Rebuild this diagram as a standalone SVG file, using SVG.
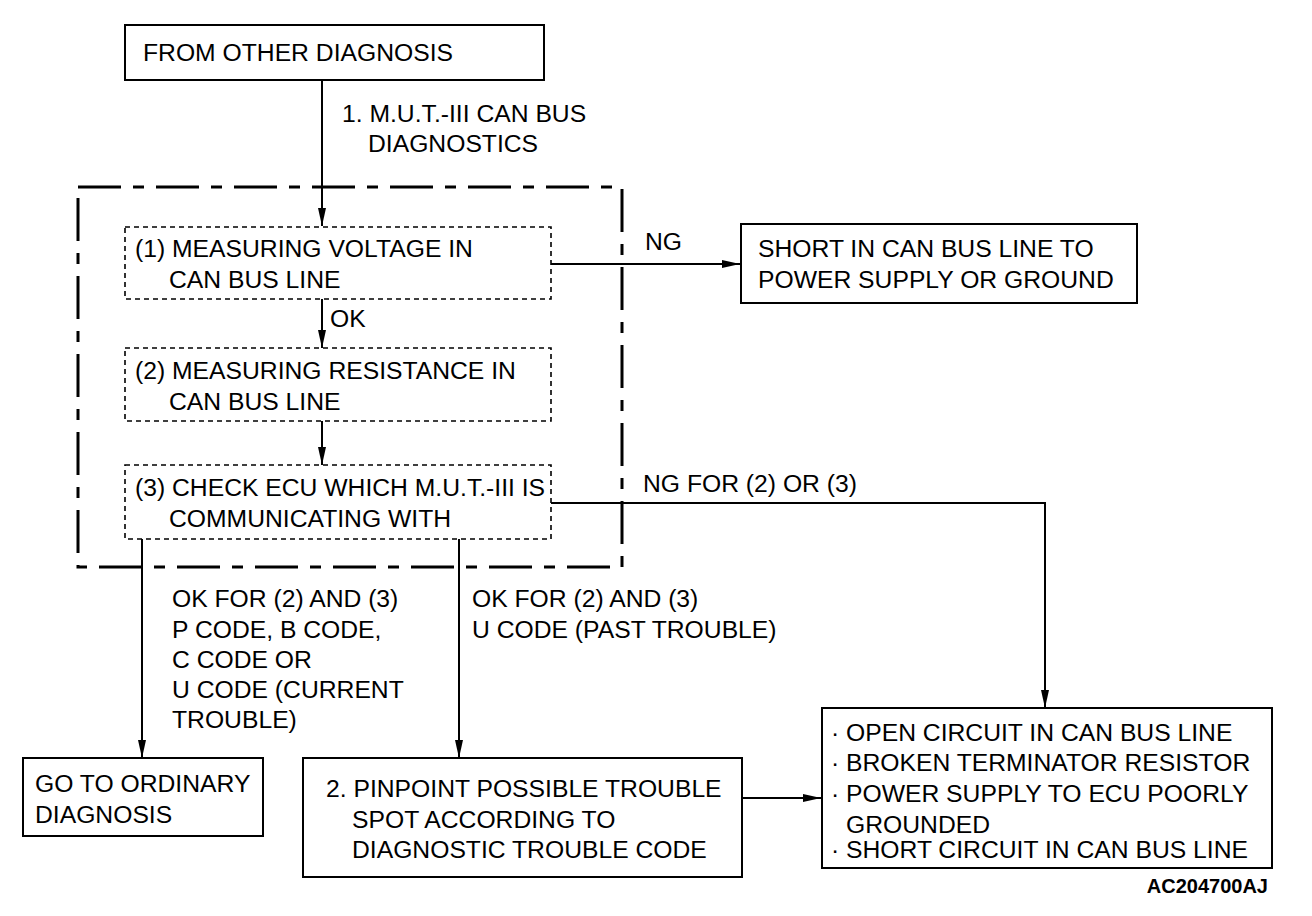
<svg xmlns="http://www.w3.org/2000/svg" width="1312" height="916" viewBox="0 0 1312 916">
<defs>
<style>
text{font-family:"Liberation Sans",Arial,sans-serif;font-size:24.7px;fill:#000}
.box{fill:#fff;stroke:#000;stroke-width:2}
.dbox{fill:#fff;stroke:#000;stroke-width:1.6;stroke-dasharray:5 4}
.grp{fill:none;stroke:#000;stroke-width:3;stroke-dasharray:43 12 11 12}
.c{fill:none;stroke:#000;stroke-width:2}
.id{font-weight:bold;font-size:20px}
</style>
<marker id="ah" viewBox="0 0 18 10" refX="18" refY="5" markerWidth="18" markerHeight="10" markerUnits="userSpaceOnUse" orient="auto">
<path d="M0,1 L18,5 L0,9 z" fill="#000"/>
</marker>
</defs>
<rect width="1312" height="916" fill="#fff"/>
<rect class="grp" x="78" y="187" width="544" height="380"/>
<g id="connectors">
<line class="c" x1="322" y1="80" x2="322" y2="226" marker-end="url(#ah)"/>
<line class="c" x1="322" y1="299" x2="322" y2="348" marker-end="url(#ah)"/>
<line class="c" x1="322" y1="421" x2="322" y2="465" marker-end="url(#ah)"/>
<line class="c" x1="551" y1="264" x2="740" y2="264" marker-end="url(#ah)"/>
<polyline class="c" points="551,503 1045,503 1045,708" marker-end="url(#ah)"/>
<line class="c" x1="142" y1="539" x2="142" y2="758" marker-end="url(#ah)"/>
<line class="c" x1="459" y1="539" x2="459" y2="758" stroke-width="2.5" marker-end="url(#ah)"/>
<line class="c" x1="742" y1="798" x2="821" y2="798" marker-end="url(#ah)"/>
<text x="342" y="122">1. M.U.T.-III CAN BUS</text>
<text x="368" y="152">DIAGNOSTICS</text>
<text x="330" y="327">OK</text>
<text x="645" y="250">NG</text>
<text x="643" y="492">NG FOR (2) OR (3)</text>
<text x="172" y="607">OK FOR (2) AND (3)</text>
<text x="172" y="638">P CODE, B CODE,</text>
<text x="172" y="668">C CODE OR</text>
<text x="172" y="698">U CODE (CURRENT</text>
<text x="172" y="728">TROUBLE)</text>
<text x="472" y="607">OK FOR (2) AND (3)</text>
<text x="472" y="638">U CODE (PAST TROUBLE)</text>
</g>
<g id="from-other">
<rect class="box" x="125" y="25" width="419" height="55"/>
<text x="143" y="61">FROM OTHER DIAGNOSIS</text>
</g>
<g id="step1">
<rect class="dbox" x="125" y="227" width="426" height="72"/>
<text x="135" y="257">(1) MEASURING VOLTAGE IN</text>
<text x="169" y="288">CAN BUS LINE</text>
</g>
<g id="step2">
<rect class="dbox" x="125" y="348" width="426" height="73"/>
<text x="135" y="379">(2) MEASURING RESISTANCE IN</text>
<text x="169" y="410">CAN BUS LINE</text>
</g>
<g id="step3">
<rect class="dbox" x="125" y="465" width="426" height="74"/>
<text x="135" y="496">(3) CHECK ECU WHICH M.U.T.-III IS</text>
<text x="169" y="527">COMMUNICATING WITH</text>
</g>
<g id="short-box">
<rect class="box" x="741" y="224" width="396" height="79"/>
<text x="758" y="257">SHORT IN CAN BUS LINE TO</text>
<text x="758" y="288">POWER SUPPLY OR GROUND</text>
</g>
<g id="ordinary">
<rect class="box" x="23" y="758" width="240" height="78"/>
<text x="35" y="792">GO TO ORDINARY</text>
<text x="35" y="823">DIAGNOSIS</text>
</g>
<g id="pinpoint">
<rect class="box" x="303" y="758" width="439" height="119"/>
<text x="326" y="797">2. PINPOINT POSSIBLE TROUBLE</text>
<text x="352" y="828">SPOT ACCORDING TO</text>
<text x="352" y="858">DIAGNOSTIC TROUBLE CODE</text>
</g>
<g id="causes">
<rect class="box" x="822" y="708" width="450" height="160"/>
<text x="831" y="741">·</text><text x="846" y="741">OPEN CIRCUIT IN CAN BUS LINE</text>
<text x="831" y="771">·</text><text x="846" y="771">BROKEN TERMINATOR RESISTOR</text>
<text x="831" y="802">·</text><text x="846" y="802">POWER SUPPLY TO ECU POORLY</text>
<text x="846" y="833">GROUNDED</text>
<text x="831" y="858">·</text><text x="846" y="858">SHORT CIRCUIT IN CAN BUS LINE</text>
</g>
<text class="id" x="1268" y="893" text-anchor="end">AC204700AJ</text>
</svg>
